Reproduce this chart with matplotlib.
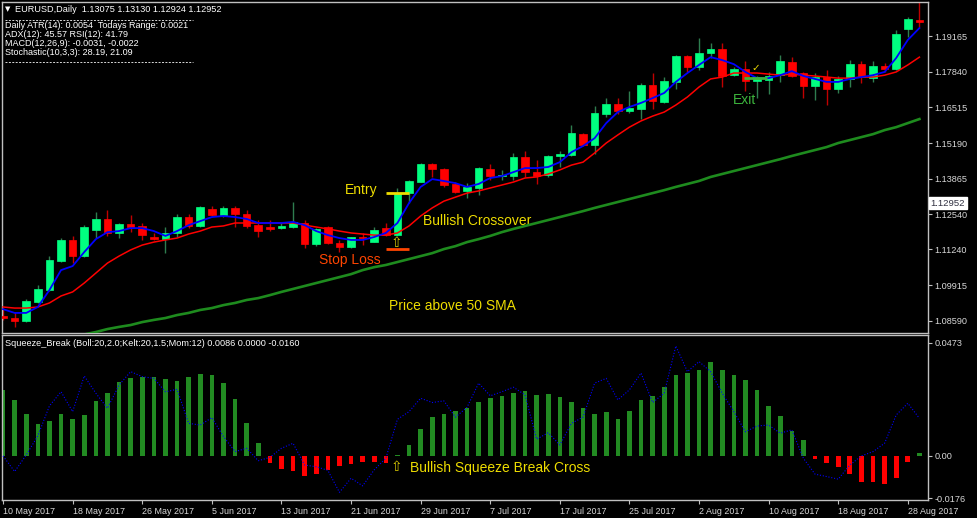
import numpy as np
import pandas as pd
import matplotlib
matplotlib.use("Agg")
import matplotlib.pyplot as plt
import matplotlib.transforms as mtransforms
from matplotlib.lines import Line2D

plt.rcParams['font.family'] = ['Liberation Sans', 'DejaVu Sans']

# ---- data (EURUSD daily, 10 May - 29 Aug 2017) ----
dates = pd.bdate_range("2017-05-10", periods=80)

opens = [1.0876, 1.0869, 1.0858, 1.0928, 1.0973, 1.1081, 1.1159, 1.1099, 1.1196, 1.1237,
         1.1185, 1.1218, 1.1211, 1.1170, 1.1162, 1.1185, 1.1244, 1.1211, 1.1274, 1.1252,
         1.1278, 1.1255, 1.1214, 1.1207, 1.1203, 1.1207, 1.1222, 1.1144, 1.1207, 1.1148,
         1.1133, 1.1170, 1.1151, 1.1203, 1.1177, 1.1333, 1.1374, 1.1441, 1.1422, 1.1367,
         1.1341, 1.1352, 1.1422, 1.1396, 1.1396, 1.1467, 1.1411, 1.1400, 1.1471, 1.1474,
         1.1552, 1.1511, 1.1627, 1.1664, 1.1638, 1.1645, 1.1734, 1.1671, 1.1746, 1.1842,
         1.1801, 1.1853, 1.1868, 1.1771, 1.1794, 1.1749, 1.1753, 1.1771, 1.1820, 1.1779,
         1.1731, 1.1764, 1.1720, 1.1757, 1.1812, 1.1760, 1.1805, 1.1794, 1.1942, 1.1976]
highs = [1.0906, 1.0891, 1.0940, 1.0992, 1.1099, 1.1166, 1.1174, 1.1214, 1.1263, 1.1270,
         1.1222, 1.1252, 1.1222, 1.1185, 1.1207, 1.1255, 1.1255, 1.1285, 1.1285, 1.1285,
         1.1285, 1.1270, 1.1233, 1.1233, 1.1226, 1.1300, 1.1233, 1.1203, 1.1211, 1.1159,
         1.1170, 1.1185, 1.1207, 1.1222, 1.1352, 1.1382, 1.1445, 1.1445, 1.1426, 1.1374,
         1.1370, 1.1430, 1.1441, 1.1419, 1.1482, 1.1489, 1.1456, 1.1474, 1.1489, 1.1586,
         1.1556, 1.1656, 1.1686, 1.1686, 1.1712, 1.1742, 1.1779, 1.1764, 1.1846, 1.1846,
         1.1909, 1.1890, 1.1890, 1.1801, 1.1824, 1.1768, 1.1783, 1.1846, 1.1838, 1.1783,
         1.1779, 1.1790, 1.1768, 1.1827, 1.1824, 1.1824, 1.1816, 1.1939, 1.1987, 1.2043]
lows = [1.0862, 1.0836, 1.0854, 1.0925, 1.0969, 1.1077, 1.1073, 1.1096, 1.1166, 1.1174,
        1.1166, 1.1188, 1.1159, 1.1159, 1.1110, 1.1170, 1.1203, 1.1207, 1.1248, 1.1244,
        1.1207, 1.1203, 1.1170, 1.1192, 1.1200, 1.1203, 1.1129, 1.1136, 1.1144, 1.1114,
        1.1129, 1.1140, 1.1151, 1.1174, 1.1174, 1.1296, 1.1374, 1.1393, 1.1356, 1.1333,
        1.1315, 1.1326, 1.1382, 1.1382, 1.1382, 1.1393, 1.1367, 1.1393, 1.1430, 1.1471,
        1.1508, 1.1478, 1.1616, 1.1627, 1.1630, 1.1608, 1.1645, 1.1668, 1.1720, 1.1783,
        1.1790, 1.1835, 1.1727, 1.1768, 1.1712, 1.1686, 1.1701, 1.1746, 1.1764, 1.1686,
        1.1679, 1.1660, 1.1705, 1.1727, 1.1742, 1.1746, 1.1783, 1.1790, 1.1913, 1.1950]
closes = [1.0869, 1.0858, 1.0932, 1.0977, 1.1084, 1.1159, 1.1099, 1.1207, 1.1237, 1.1185,
          1.1218, 1.1207, 1.1177, 1.1162, 1.1185, 1.1244, 1.1211, 1.1281, 1.1252, 1.1278,
          1.1255, 1.1211, 1.1192, 1.1200, 1.1211, 1.1226, 1.1144, 1.1200, 1.1148, 1.1133,
          1.1170, 1.1166, 1.1196, 1.1177, 1.1333, 1.1378, 1.1441, 1.1422, 1.1363, 1.1337,
          1.1356, 1.1426, 1.1396, 1.1400, 1.1467, 1.1411, 1.1396, 1.1471, 1.1478, 1.1556,
          1.1511, 1.1630, 1.1664, 1.1638, 1.1649, 1.1734, 1.1675, 1.1749, 1.1842, 1.1801,
          1.1853, 1.1868, 1.1768, 1.1794, 1.1749, 1.1764, 1.1768, 1.1824, 1.1768, 1.1731,
          1.1764, 1.1720, 1.1757, 1.1812, 1.1764, 1.1805, 1.1794, 1.1924, 1.1979, 1.1968]

# blue fast MA, red slow MA
fast_ma = [1.0902, 1.0888, 1.0888, 1.0910, 1.0973, 1.1047, 1.1062, 1.1114, 1.1162, 1.1188,
           1.1192, 1.1203, 1.1203, 1.1192, 1.1174, 1.1192, 1.1214, 1.1229, 1.1244, 1.1248,
           1.1244, 1.1237, 1.1222, 1.1222, 1.1222, 1.1226, 1.1214, 1.1192, 1.1177, 1.1166,
           1.1159, 1.1159, 1.1170, 1.1185, 1.1222, 1.1296, 1.1356, 1.1385, 1.1378, 1.1370,
           1.1356, 1.1367, 1.1389, 1.1396, 1.1411, 1.1426, 1.1426, 1.1430, 1.1448, 1.1485,
           1.1508, 1.1537, 1.1593, 1.1634, 1.1653, 1.1668, 1.1686, 1.1705, 1.1746, 1.1779,
           1.1809, 1.1838, 1.1827, 1.1812, 1.1783, 1.1760, 1.1760, 1.1771, 1.1786, 1.1768,
           1.1757, 1.1746, 1.1746, 1.1757, 1.1764, 1.1771, 1.1783, 1.1835, 1.1902, 1.1946]
slow_ma = [1.0910, 1.0906, 1.0906, 1.0910, 1.0925, 1.0951, 1.0966, 1.0999, 1.1036, 1.1073,
           1.1099, 1.1122, 1.1140, 1.1151, 1.1159, 1.1166, 1.1181, 1.1192, 1.1207, 1.1211,
           1.1222, 1.1222, 1.1222, 1.1222, 1.1222, 1.1222, 1.1214, 1.1207, 1.1200, 1.1192,
           1.1185, 1.1181, 1.1177, 1.1177, 1.1185, 1.1211, 1.1248, 1.1278, 1.1303, 1.1318,
           1.1333, 1.1341, 1.1352, 1.1363, 1.1374, 1.1389, 1.1393, 1.1404, 1.1419, 1.1437,
           1.1448, 1.1482, 1.1519, 1.1549, 1.1578, 1.1601, 1.1619, 1.1634, 1.1660, 1.1690,
           1.1727, 1.1757, 1.1764, 1.1779, 1.1779, 1.1779, 1.1775, 1.1771, 1.1775, 1.1771,
           1.1768, 1.1764, 1.1760, 1.1760, 1.1764, 1.1764, 1.1771, 1.1783, 1.1809, 1.1838]
# 50 SMA (only visible from the 9th bar on)
sma50 = [np.nan] * 7 + [
    1.0808, 1.0817, 1.0828, 1.0836, 1.0843, 1.0854, 1.0862, 1.0869, 1.0880, 1.0888, 1.0899,
    1.0906, 1.0917, 1.0925, 1.0936, 1.0943, 1.0954, 1.0966, 1.0977, 1.0988, 1.0999,
    1.1010, 1.1021, 1.1032, 1.1047, 1.1058, 1.1066, 1.1077, 1.1088, 1.1099, 1.1110,
    1.1125, 1.1136, 1.1151, 1.1162, 1.1174, 1.1188, 1.1200, 1.1211, 1.1222, 1.1233,
    1.1244, 1.1255, 1.1266, 1.1278, 1.1289, 1.1300, 1.1311, 1.1322, 1.1333, 1.1344,
    1.1356, 1.1367, 1.1378, 1.1393, 1.1404, 1.1415, 1.1426, 1.1437, 1.1448, 1.1459,
    1.1471, 1.1482, 1.1493, 1.1504, 1.1519, 1.1530, 1.1541, 1.1552, 1.1567, 1.1578,
    1.1593, 1.1608]

# Squeeze_Break histogram and momentum (dotted blue)
squeeze_hist = [0.0276, 0.0234, 0.0174, 0.0132, 0.0146, 0.0174, 0.0154, 0.0171, 0.0231, 0.0264,
                0.0308, 0.0324, 0.0331, 0.0331, 0.0321, 0.0313, 0.0328, 0.0342, 0.0338, 0.0306,
                0.0238, 0.0139, 0.0056, -0.0028, -0.0054, -0.0061, -0.0082, -0.0075, -0.0057, -0.0042,
                -0.0033, -0.0024, -0.0024, -0.0028, 0.0004, 0.0046, 0.0113, 0.0163, 0.0175, 0.0188,
                0.0202, 0.0227, 0.0241, 0.0251, 0.0264, 0.0271, 0.0255, 0.0259, 0.0246, 0.0227,
                0.0200, 0.0174, 0.0184, 0.0153, 0.0188, 0.0234, 0.0252, 0.0288, 0.0338, 0.0348,
                0.0359, 0.0392, 0.0359, 0.0338, 0.0317, 0.0276, 0.0209, 0.0167, 0.0104, 0.0067,
                -0.0013, -0.0028, -0.0045, -0.0076, -0.0110, -0.0110, -0.0118, -0.0091, -0.0024, 0.0011]
momentum = [0.0000, -0.0065, 0.0004, 0.0084, 0.0209, 0.0268, 0.0185, 0.0334, 0.0262, 0.0199,
            0.0296, 0.0352, 0.0331, 0.0324, 0.0268, 0.0278, 0.0136, 0.0129, 0.0160, 0.0081,
            0.0018, 0.0032, -0.0020, -0.0006, 0.0032, 0.0053, -0.0038, -0.0045, -0.0060, -0.0152,
            -0.0093, -0.0125, -0.0058, -0.0010, 0.0153, 0.0185, 0.0241, 0.0223, 0.0230, 0.0162,
            0.0203, 0.0304, 0.0251, 0.0268, 0.0287, 0.0255, 0.0070, 0.0097, 0.0046, 0.0136,
            0.0162, 0.0304, 0.0324, 0.0234, 0.0276, 0.0346, 0.0223, 0.0262, 0.0459, 0.0352,
            0.0394, 0.0352, 0.0262, 0.0185, 0.0101, 0.0125, 0.0129, 0.0095, 0.0109, -0.0010,
            -0.0076, -0.0086, -0.0097, -0.0038, 0.0000, 0.0018, 0.0053, 0.0171, 0.0220, 0.0157]

price_ticks = [1.19165, 1.17840, 1.16515, 1.15190, 1.13865, 1.12540, 1.11240, 1.09915, 1.08590]
ind_ticks = [0.0473, 0.0, -0.0176]
ind_tick_labels = ["0.0473", "0.00", "-0.0176"]
date_labels = ["10 May 2017", "18 May 2017", "26 May 2017", "5 Jun 2017", "13 Jun 2017",
               "21 Jun 2017", "29 Jun 2017", "7 Jul 2017", "17 Jul 2017", "25 Jul 2017",
               "2 Aug 2017", "10 Aug 2017", "18 Aug 2017", "28 Aug 2017"]

header = "EURUSD,Daily  1.13075 1.13130 1.12924 1.12952"
info_lines = ["Daily ATR(14): 0.0054  Todays Range: 0.0021",
              "ADX(12): 45.57 RSI(12): 41.79",
              "MACD(12,26,9): -0.0031, -0.0022",
              "Stochastic(10,3,3): 28.19, 21.09"]
ind_header = "Squeeze_Break (Boll:20,2.0;Kelt:20,1.5;Mom:12) 0.0086 0.0000 -0.0160"

last_price = 1.12952
entry_bar, entry_price = 34, 1.1333
stop_loss = 1.1125
exit_bar, exit_price = 65, 1.1760

# ---- figure ----
W, H = 977, 518
BG = "black"
FG = "#d8d8d8"
SPINE = "#c0c0c0"
YELLOW = "#EEDD00"

def fx(px):
    return px / W

def fy(py):
    return 1 - py / H

fig = plt.figure(figsize=(W / 100, H / 100), dpi=100, facecolor=BG)
ax = fig.add_axes([fx(2), fy(333), fx(928) - fx(2), fy(2) - fy(333)], facecolor=BG)
ax2 = fig.add_axes([fx(2), fy(500), fx(928) - fx(2), fy(335) - fy(500)], facecolor=BG)

idx = np.arange(len(opens))
o = np.array(opens); h = np.array(highs); l = np.array(lows); c = np.array(closes)
up = c >= o
body_lo = np.minimum(o, c)
body_h = np.abs(c - o)

# candles
ax.vlines(idx[up], l[up], h[up], color="#2E7D4F", lw=1, zorder=2)
ax.vlines(idx[~up], l[~up], h[~up], color="#C00000", lw=1, zorder=2)
ax.bar(idx[up], body_h[up], bottom=body_lo[up], width=0.66, color="#00FF80",
       edgecolor="#00FF80", lw=0.5, zorder=3)
ax.bar(idx[~up], body_h[~up], bottom=body_lo[~up], width=0.66, color="#FF0000",
       edgecolor="#FF0000", lw=0.5, zorder=3)

# moving averages
ax.plot(idx, sma50, color="#1E8B1E", lw=1.9, zorder=4)
ax.plot(idx, slow_ma, color="#FF0000", lw=1.1, zorder=5)
ax.plot(idx, fast_ma, color="#0000FF", lw=1.3, zorder=6)

# trade annotations
ax.hlines(entry_price, entry_bar - 1, entry_bar + 1, color=YELLOW, lw=2, zorder=7)
ax.hlines(stop_loss, entry_bar - 1, entry_bar + 1, color="#FF4500", lw=2, zorder=7)
ax.hlines(exit_price, exit_bar - 1.1, exit_bar + 0.9, color="#3CB43C", lw=2, zorder=7)
ax.text(32.3, 1.1343, "Entry", color=YELLOW, fontsize=10, ha="right", va="center")
ax.text(36.2, 1.1228, "Bullish Crossover", color=YELLOW, fontsize=10, ha="left", va="center")
ax.text(27.2, 1.1086, "Stop Loss", color="#FF4500", fontsize=10, ha="left", va="center")
ax.text(33.3, 1.0912, "Price above 50 SMA", color=YELLOW, fontsize=10, ha="left", va="center")
ax.text(62.9, 1.1677, "Exit", color="#3CB43C", fontsize=10, ha="left", va="center")
ax.text(entry_bar - 0.1, 1.1149, "\u21e7", color="#D8C800", fontsize=10, ha="center",
        va="center", family=["DejaVu Sans"], zorder=8)
ax.text(64.9, 1.1796, "\u2713", color=YELLOW, fontsize=7.5, ha="center", va="center",
        family=["DejaVu Sans"], zorder=8)

ax.set_xlim(-0.09, 79.74)
ax.set_ylim(1.08134, 1.20428)
ax.set_xticks([])
ax.yaxis.tick_right()
ax.set_yticks(price_ticks)
ax.set_yticklabels([f"{p:.5f}" for p in price_ticks])

# current price label
trans = mtransforms.blended_transform_factory(ax.transAxes, ax.transData)
ax.text(1.003, last_price, f"{last_price:.5f}", transform=trans, ha="left", va="center",
        color="#303040", fontsize=6.8, clip_on=False,
        bbox=dict(facecolor="white", edgecolor="white", pad=1.2))

# indicator panel
hist = np.array(squeeze_hist)
ax2.bar(idx, hist, width=0.4, color=np.where(hist >= 0, "#228B22", "#FF0000"), zorder=2)
ax2.plot(idx, momentum, color="#0000FF", lw=0.8, ls=(0, (1, 1.6)), zorder=3)
ax2.text(35.1, -0.0050, "Bullish Squeeze Break Cross", color=YELLOW, fontsize=10,
         ha="left", va="center")
ax2.text(33.9, -0.0047, "\u21e7", color="#D8C800", fontsize=10, ha="center", va="center",
         family=["DejaVu Sans"])

ax2.set_xlim(-0.09, 79.74)
ax2.set_ylim(-0.0184, 0.0505)
ax2.yaxis.tick_right()
ax2.set_yticks(ind_ticks)
ax2.set_yticklabels(ind_tick_labels)

day_names = [f"{d.day} {d.strftime('%b %Y')}" for d in dates]
tick_pos = [day_names.index(lbl) for lbl in date_labels]
ax2.set_xticks(tick_pos)
ax2.set_xticklabels(date_labels)
for t in ax2.get_xticklabels():
    t.set_ha("left")

for a in (ax, ax2):
    for s in a.spines.values():
        s.set_color(SPINE)
        s.set_linewidth(1)
    a.tick_params(colors=SPINE, labelcolor=FG, labelsize=6.6, length=3, width=0.8, pad=1.5)
ax2.tick_params(axis="x", labelsize=6.4, pad=2)

# header texts
fig.text(fx(5), fy(9), "\u25bc", color="white", fontsize=5, ha="left", va="center",
         family=["DejaVu Sans"])
fig.text(fx(15), fy(9), header, color="white", fontsize=6.6, ha="left", va="center")
for ypx in (20, 62):
    fig.add_artist(Line2D([fx(5), fx(193)], [fy(ypx), fy(ypx)], transform=fig.transFigure,
                          color=FG, lw=0.7, ls=(0, (2, 1.5))))
for i, line in enumerate(info_lines):
    fig.text(fx(5), fy(26 + 8.7 * i), line, color="white", fontsize=6.5, ha="left", va="center")
fig.text(fx(5), fy(344), ind_header, color="white", fontsize=6.6, ha="left", va="center")

fig.savefig("out.png", dpi=100, facecolor=BG)
